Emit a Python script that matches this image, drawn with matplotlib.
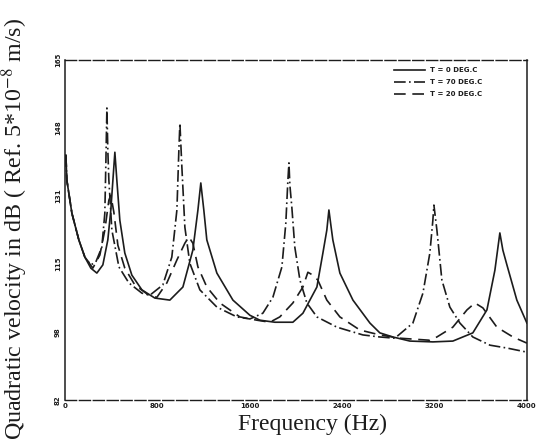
import matplotlib.pyplot as plt

# ------------------------------------------
# values
# frequency in Hz, quadratic velocity in dB
# ------------------------------------------
freq_t0 = [9, 17, 61, 121, 173, 225, 277, 329, 372, 398, 416, 433, 450, 476, 519,
           580, 667, 779, 909, 1022, 1108, 1152, 1177, 1203, 1229, 1316, 1455, 1602,
           1688, 1818, 1974, 2061, 2182, 2234, 2268, 2286, 2303, 2320, 2381, 2494,
           2641, 2727, 2840, 2987, 3186, 3359, 3532, 3654, 3723, 3766, 3792, 3827,
           3913, 4000]
db_t0 = [141.8, 135.7, 127.6, 121.1, 116.9, 114.2, 113.0, 115.0, 121.1, 128.4, 135.7,
         142.5, 135.7, 125.9, 117.9, 112.5, 108.9, 106.9, 106.4, 109.6, 118.6, 128.4,
         135.0, 128.4, 121.1, 113.0, 106.4, 102.7, 101.5, 101.0, 101.0, 103.2, 109.6,
         117.9, 123.5, 128.4, 124.7, 121.1, 113.0, 106.4, 100.8, 98.4, 97.4, 96.4,
         96.2, 96.4, 98.4, 104.0, 113.7, 122.8, 118.6, 115.0, 106.4, 100.8]

freq_t70 = [9, 17, 61, 121, 173, 225, 268, 320, 346, 355, 364, 372, 381, 407, 468,
            554, 667, 736, 848, 926, 970, 987, 996, 1013, 1039, 1082, 1169, 1316,
            1489, 1602, 1714, 1801, 1879, 1913, 1931, 1940, 1948, 1965, 1991, 2035,
            2095, 2182, 2355, 2580, 2727, 2857, 3013, 3100, 3160, 3186, 3195, 3221,
            3264, 3333, 3420, 3532, 3680, 3827, 4000]
db_t70 = [141.8, 135.7, 127.6, 121.1, 116.9, 115.0, 115.7, 119.3, 127.6, 139.9, 153.3,
          143.0, 135.7, 123.5, 114.5, 110.6, 108.1, 107.6, 110.1, 116.9, 128.4, 143.0,
          149.6, 138.9, 124.2, 115.4, 108.9, 104.7, 102.3, 101.8, 103.2, 107.1, 114.5,
          125.2, 135.7, 139.9, 134.5, 129.1, 119.3, 111.3, 105.7, 102.3, 99.8, 97.9,
          97.4, 97.1, 100.8, 108.1, 117.9, 125.9, 129.6, 123.5, 111.3, 104.7, 100.8,
          97.4, 95.4, 94.7, 93.7]

freq_t20 = [9, 17, 61, 121, 173, 242, 303, 346, 381, 398, 424, 459, 519, 606, 736,
            797, 883, 970, 1039, 1074, 1108, 1152, 1229, 1342, 1515, 1662, 1775, 1861,
            1974, 2061, 2104, 2147, 2190, 2268, 2381, 2554, 2727, 2900, 3160, 3221,
            3359, 3481, 3550, 3619, 3740, 3879, 4000]
db_t20 = [141.8, 135.7, 127.6, 121.1, 116.9, 114.2, 117.4, 123.5, 130.8, 132.0, 127.9,
          119.8, 114.2, 110.1, 107.4, 107.1, 110.6, 116.2, 120.3, 121.8, 120.3, 114.5,
          109.6, 105.7, 102.3, 101.5, 101.0, 102.3, 105.7, 109.6, 113.2, 112.5, 111.3,
          106.4, 102.3, 99.1, 97.9, 97.1, 96.6, 97.4, 99.8, 104.0, 105.7, 104.5, 99.8,
          97.4, 95.9]

legend_labels = ["T = 0 DEG.C", "T = 70 DEG.C", "T = 20 DEG.C"]
x_ticks = [0, 800, 1600, 2400, 3200, 4000]
x_tick_labels = ["0", "800", "1600", "2400", "3200", "4000"]
y_ticks = [82, 98.6, 115.2, 131.8, 148.4, 165]
y_tick_labels = ["82", "98", "115", "131", "148", "165"]

# ------------------------------------------
# figure
# ------------------------------------------
plt.rcParams['mathtext.fontset'] = 'stix'
ink = "#1c1c1c"

fig = plt.figure(figsize=(5.36, 4.45), dpi=100)
ax = fig.add_axes([0.121, 0.101, 0.862, 0.764])

ax.plot(freq_t0, db_t0, color=ink, lw=1.2, ls="-", label=legend_labels[0])
ax.plot(freq_t70, db_t70, color=ink, lw=1.2, ls=(0, (7, 2, 1, 2)), label=legend_labels[1])
ax.plot(freq_t20, db_t20, color=ink, lw=1.2, ls=(0, (7, 4)), label=legend_labels[2])

ax.set_xlim(0, 4000)
ax.set_ylim(82, 165)
ax.set_xticks(x_ticks)
ax.set_xticklabels(x_tick_labels, fontsize=5, fontweight="bold", color=ink)
ax.set_yticks(y_ticks)
ax.set_yticklabels(y_tick_labels, fontsize=5, fontweight="bold", color=ink,
                   rotation=90, va="center")
ax.tick_params(axis="x", length=0, pad=2)
ax.tick_params(axis="y", length=0, pad=3)

# scanned frame: solid sides, broken top and bottom
for side in ["left", "right"]:
    ax.spines[side].set_color(ink)
    ax.spines[side].set_linewidth(1.1)
for side in ["top", "bottom"]:
    ax.spines[side].set_color(ink)
    ax.spines[side].set_linewidth(1.0)
    ax.spines[side].set_linestyle((0, (8, 2)))

leg = ax.legend(loc="upper right", bbox_to_anchor=(0.91, 0.99), frameon=False,
                prop={"size": 5, "weight": "bold"}, handlelength=4.5,
                labelspacing=0.9, handletextpad=0.6, borderpad=0)
for t in leg.get_texts():
    t.set_color(ink)

fig.text(312 / 536, 1 - 424 / 445, "Frequency (Hz)", ha="center", va="center",
         fontsize=17, family="Liberation Serif", color=ink)
fig.text(15 / 536, 1 - 229 / 445, "Quadratic velocity in dB ( Ref. 5*10$^{-8}$ m/s)",
         ha="center", va="center", rotation=90, fontsize=17.3,
         family="Liberation Serif", color=ink)

fig.savefig("out.png", dpi=100)
